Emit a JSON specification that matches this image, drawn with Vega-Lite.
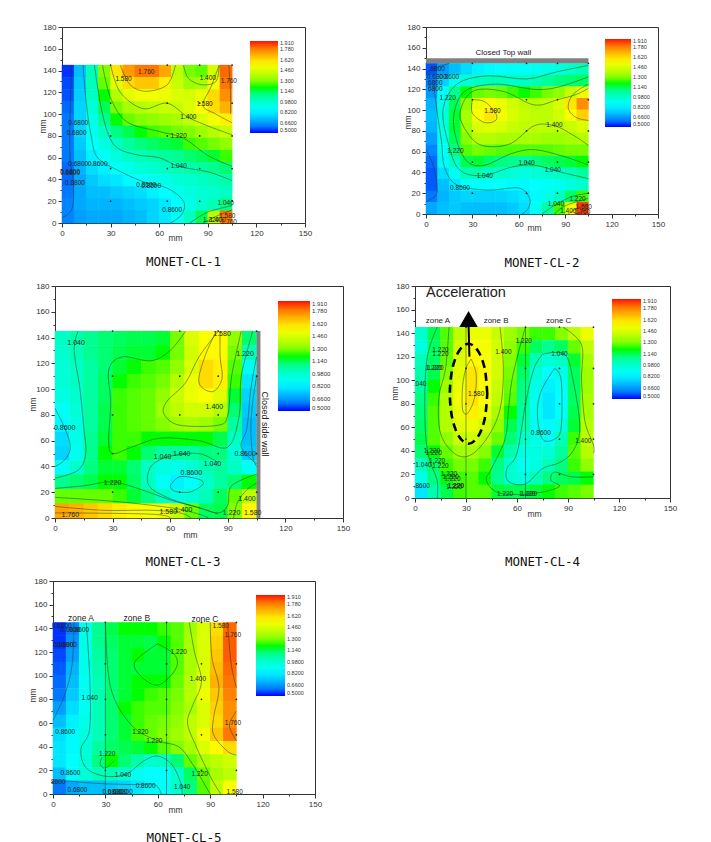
{"$schema":"https://vega.github.io/schema/vega-lite/v6.json","padding":{"left":20,"top":22,"right":0,"bottom":0},"background":"white","config":{"view":{"stroke":"#333"},"axis":{"grid":false,"domainColor":"#333","tickColor":"#333","labelColor":"#333","titleColor":"#333","labelFont":"Liberation Sans","titleFont":"Liberation Sans","labelFontSize":8,"titleFontSize":8.5,"titleFontWeight":"normal","labelOverlap":false,"labelFlush":false,"labelPadding":2,"titleBaseline":"middle"},"legend":{"labelFont":"Liberation Sans","labelColor":"#333"},"title":{"font":"DejaVu Sans Mono","fontSize":12.5,"fontWeight":"normal","color":"#111","anchor":"middle","baseline":"top"}},
"resolve":{"scale":{"color":"independent"},"legend":{"color":"independent"}},"spacing":7,
"datasets":{
"pts":[{"x":30,"y":145},{"x":65,"y":145},{"x":85,"y":145},{"x":105,"y":145},{"x":30,"y":110},{"x":65,"y":110},{"x":85,"y":110},{"x":105,"y":110},{"x":30,"y":80},{"x":65,"y":80},{"x":85,"y":80},{"x":105,"y":80},{"x":30,"y":50},{"x":65,"y":50},{"x":85,"y":50},{"x":105,"y":50},{"x":30,"y":20},{"x":65,"y":20},{"x":85,"y":20},{"x":105,"y":20}],
"g1":[{"x":3.75,"y":139.4,"v":0.52},{"x":11.25,"y":139.4,"v":0.72},{"x":18.75,"y":139.4,"v":1.02},{"x":26.25,"y":139.4,"v":1.3},{"x":33.75,"y":139.4,"v":1.6},{"x":41.25,"y":139.4,"v":1.74},{"x":48.75,"y":139.4,"v":1.8},{"x":56.25,"y":139.4,"v":1.8},{"x":63.75,"y":139.4,"v":1.72},{"x":71.25,"y":139.4,"v":1.4},{"x":78.75,"y":139.4,"v":1.28},{"x":86.25,"y":139.4,"v":1.25},{"x":93.75,"y":139.4,"v":1.45},{"x":101.25,"y":139.4,"v":1.82},
{"x":3.75,"y":128.2,"v":0.54},{"x":11.25,"y":128.2,"v":0.74},{"x":18.75,"y":128.2,"v":1.02},{"x":26.25,"y":128.2,"v":1.26},{"x":33.75,"y":128.2,"v":1.48},{"x":41.25,"y":128.2,"v":1.62},{"x":48.75,"y":128.2,"v":1.66},{"x":56.25,"y":128.2,"v":1.66},{"x":63.75,"y":128.2,"v":1.58},{"x":71.25,"y":128.2,"v":1.42},{"x":78.75,"y":128.2,"v":1.34},{"x":86.25,"y":128.2,"v":1.36},{"x":93.75,"y":128.2,"v":1.52},{"x":101.25,"y":128.2,"v":1.8},
{"x":3.75,"y":117,"v":0.55},{"x":11.25,"y":117,"v":0.75},{"x":18.75,"y":117,"v":1},{"x":26.25,"y":117,"v":1.2},{"x":33.75,"y":117,"v":1.38},{"x":41.25,"y":117,"v":1.48},{"x":48.75,"y":117,"v":1.52},{"x":56.25,"y":117,"v":1.52},{"x":63.75,"y":117,"v":1.5},{"x":71.25,"y":117,"v":1.46},{"x":78.75,"y":117,"v":1.45},{"x":86.25,"y":117,"v":1.5},{"x":93.75,"y":117,"v":1.62},{"x":101.25,"y":117,"v":1.76},
{"x":3.75,"y":105.9,"v":0.58},{"x":11.25,"y":105.9,"v":0.76},{"x":18.75,"y":105.9,"v":0.96},{"x":26.25,"y":105.9,"v":1.15},{"x":33.75,"y":105.9,"v":1.28},{"x":41.25,"y":105.9,"v":1.36},{"x":48.75,"y":105.9,"v":1.38},{"x":56.25,"y":105.9,"v":1.4},{"x":63.75,"y":105.9,"v":1.42},{"x":71.25,"y":105.9,"v":1.42},{"x":78.75,"y":105.9,"v":1.46},{"x":86.25,"y":105.9,"v":1.54},{"x":93.75,"y":105.9,"v":1.62},{"x":101.25,"y":105.9,"v":1.7},
{"x":3.75,"y":94.8,"v":0.6},{"x":11.25,"y":94.8,"v":0.76},{"x":18.75,"y":94.8,"v":0.93},{"x":26.25,"y":94.8,"v":1.08},{"x":33.75,"y":94.8,"v":1.2},{"x":41.25,"y":94.8,"v":1.26},{"x":48.75,"y":94.8,"v":1.3},{"x":56.25,"y":94.8,"v":1.32},{"x":63.75,"y":94.8,"v":1.34},{"x":71.25,"y":94.8,"v":1.36},{"x":78.75,"y":94.8,"v":1.4},{"x":86.25,"y":94.8,"v":1.46},{"x":93.75,"y":94.8,"v":1.52},{"x":101.25,"y":94.8,"v":1.58},
{"x":3.75,"y":83.6,"v":0.6},{"x":11.25,"y":83.6,"v":0.76},{"x":18.75,"y":83.6,"v":0.9},{"x":26.25,"y":83.6,"v":1},{"x":33.75,"y":83.6,"v":1.1},{"x":41.25,"y":83.6,"v":1.16},{"x":48.75,"y":83.6,"v":1.2},{"x":56.25,"y":83.6,"v":1.22},{"x":63.75,"y":83.6,"v":1.24},{"x":71.25,"y":83.6,"v":1.28},{"x":78.75,"y":83.6,"v":1.3},{"x":86.25,"y":83.6,"v":1.34},{"x":93.75,"y":83.6,"v":1.38},{"x":101.25,"y":83.6,"v":1.42},
{"x":3.75,"y":72.5,"v":0.6},{"x":11.25,"y":72.5,"v":0.74},{"x":18.75,"y":72.5,"v":0.86},{"x":26.25,"y":72.5,"v":0.94},{"x":33.75,"y":72.5,"v":1},{"x":41.25,"y":72.5,"v":1.06},{"x":48.75,"y":72.5,"v":1.1},{"x":56.25,"y":72.5,"v":1.14},{"x":63.75,"y":72.5,"v":1.16},{"x":71.25,"y":72.5,"v":1.18},{"x":78.75,"y":72.5,"v":1.22},{"x":86.25,"y":72.5,"v":1.24},{"x":93.75,"y":72.5,"v":1.28},{"x":101.25,"y":72.5,"v":1.32},
{"x":3.75,"y":61.3,"v":0.6},{"x":11.25,"y":61.3,"v":0.72},{"x":18.75,"y":61.3,"v":0.82},{"x":26.25,"y":61.3,"v":0.88},{"x":33.75,"y":61.3,"v":0.94},{"x":41.25,"y":61.3,"v":1},{"x":48.75,"y":61.3,"v":1.02},{"x":56.25,"y":61.3,"v":1.04},{"x":63.75,"y":61.3,"v":1.06},{"x":71.25,"y":61.3,"v":1.08},{"x":78.75,"y":61.3,"v":1.12},{"x":86.25,"y":61.3,"v":1.15},{"x":93.75,"y":61.3,"v":1.18},{"x":101.25,"y":61.3,"v":1.22},
{"x":3.75,"y":50.2,"v":0.58},{"x":11.25,"y":50.2,"v":0.7},{"x":18.75,"y":50.2,"v":0.78},{"x":26.25,"y":50.2,"v":0.82},{"x":33.75,"y":50.2,"v":0.88},{"x":41.25,"y":50.2,"v":0.92},{"x":48.75,"y":50.2,"v":0.96},{"x":56.25,"y":50.2,"v":0.98},{"x":63.75,"y":50.2,"v":1},{"x":71.25,"y":50.2,"v":1.02},{"x":78.75,"y":50.2,"v":1.04},{"x":86.25,"y":50.2,"v":1.06},{"x":93.75,"y":50.2,"v":1.08},{"x":101.25,"y":50.2,"v":1.12},
{"x":3.75,"y":39,"v":0.58},{"x":11.25,"y":39,"v":0.68},{"x":18.75,"y":39,"v":0.74},{"x":26.25,"y":39,"v":0.78},{"x":33.75,"y":39,"v":0.8},{"x":41.25,"y":39,"v":0.84},{"x":48.75,"y":39,"v":0.86},{"x":56.25,"y":39,"v":0.9},{"x":63.75,"y":39,"v":0.92},{"x":71.25,"y":39,"v":0.96},{"x":78.75,"y":39,"v":0.98},{"x":86.25,"y":39,"v":1},{"x":93.75,"y":39,"v":1.02},{"x":101.25,"y":39,"v":1.04},
{"x":3.75,"y":27.9,"v":0.6},{"x":11.25,"y":27.9,"v":0.68},{"x":18.75,"y":27.9,"v":0.72},{"x":26.25,"y":27.9,"v":0.72},{"x":33.75,"y":27.9,"v":0.74},{"x":41.25,"y":27.9,"v":0.76},{"x":48.75,"y":27.9,"v":0.78},{"x":56.25,"y":27.9,"v":0.82},{"x":63.75,"y":27.9,"v":0.85},{"x":71.25,"y":27.9,"v":0.9},{"x":78.75,"y":27.9,"v":0.94},{"x":86.25,"y":27.9,"v":0.97},{"x":93.75,"y":27.9,"v":0.98},{"x":101.25,"y":27.9,"v":1},
{"x":3.75,"y":16.7,"v":0.62},{"x":11.25,"y":16.7,"v":0.68},{"x":18.75,"y":16.7,"v":0.7},{"x":26.25,"y":16.7,"v":0.7},{"x":33.75,"y":16.7,"v":0.7},{"x":41.25,"y":16.7,"v":0.72},{"x":48.75,"y":16.7,"v":0.74},{"x":56.25,"y":16.7,"v":0.76},{"x":63.75,"y":16.7,"v":0.8},{"x":71.25,"y":16.7,"v":0.86},{"x":78.75,"y":16.7,"v":0.92},{"x":86.25,"y":16.7,"v":0.98},{"x":93.75,"y":16.7,"v":1.02},{"x":101.25,"y":16.7,"v":1.1},
{"x":3.75,"y":5.6,"v":0.62},{"x":11.25,"y":5.6,"v":0.66},{"x":18.75,"y":5.6,"v":0.68},{"x":26.25,"y":5.6,"v":0.68},{"x":33.75,"y":5.6,"v":0.68},{"x":41.25,"y":5.6,"v":0.7},{"x":48.75,"y":5.6,"v":0.72},{"x":56.25,"y":5.6,"v":0.76},{"x":63.75,"y":5.6,"v":0.8},{"x":71.25,"y":5.6,"v":0.88},{"x":78.75,"y":5.6,"v":1},{"x":86.25,"y":5.6,"v":1.15},{"x":93.75,"y":5.6,"v":1.4},{"x":101.25,"y":5.6,"v":1.8}],
"g2":[{"x":3.75,"y":139.4,"v":0.55},{"x":11.25,"y":139.4,"v":0.66},{"x":18.75,"y":139.4,"v":0.72},{"x":26.25,"y":139.4,"v":0.78},{"x":33.75,"y":139.4,"v":0.82},{"x":41.25,"y":139.4,"v":0.84},{"x":48.75,"y":139.4,"v":0.86},{"x":56.25,"y":139.4,"v":0.88},{"x":63.75,"y":139.4,"v":0.88},{"x":71.25,"y":139.4,"v":0.9},{"x":78.75,"y":139.4,"v":0.92},{"x":86.25,"y":139.4,"v":0.95},{"x":93.75,"y":139.4,"v":0.98},{"x":101.25,"y":139.4,"v":1.02},
{"x":3.75,"y":128.2,"v":0.6},{"x":11.25,"y":128.2,"v":0.76},{"x":18.75,"y":128.2,"v":0.9},{"x":26.25,"y":128.2,"v":0.96},{"x":33.75,"y":128.2,"v":1},{"x":41.25,"y":128.2,"v":1.02},{"x":48.75,"y":128.2,"v":1.02},{"x":56.25,"y":128.2,"v":1},{"x":63.75,"y":128.2,"v":1},{"x":71.25,"y":128.2,"v":1.02},{"x":78.75,"y":128.2,"v":1.06},{"x":86.25,"y":128.2,"v":1.1},{"x":93.75,"y":128.2,"v":1.12},{"x":101.25,"y":128.2,"v":1.14},
{"x":3.75,"y":117,"v":0.65},{"x":11.25,"y":117,"v":0.88},{"x":18.75,"y":117,"v":1.08},{"x":26.25,"y":117,"v":1.2},{"x":33.75,"y":117,"v":1.26},{"x":41.25,"y":117,"v":1.28},{"x":48.75,"y":117,"v":1.26},{"x":56.25,"y":117,"v":1.22},{"x":63.75,"y":117,"v":1.2},{"x":71.25,"y":117,"v":1.22},{"x":78.75,"y":117,"v":1.28},{"x":86.25,"y":117,"v":1.32},{"x":93.75,"y":117,"v":1.42},{"x":101.25,"y":117,"v":1.5},
{"x":3.75,"y":105.9,"v":0.7},{"x":11.25,"y":105.9,"v":0.92},{"x":18.75,"y":105.9,"v":1.15},{"x":26.25,"y":105.9,"v":1.32},{"x":33.75,"y":105.9,"v":1.5},{"x":41.25,"y":105.9,"v":1.56},{"x":48.75,"y":105.9,"v":1.5},{"x":56.25,"y":105.9,"v":1.44},{"x":63.75,"y":105.9,"v":1.4},{"x":71.25,"y":105.9,"v":1.38},{"x":78.75,"y":105.9,"v":1.4},{"x":86.25,"y":105.9,"v":1.46},{"x":93.75,"y":105.9,"v":1.6},{"x":101.25,"y":105.9,"v":1.76},
{"x":3.75,"y":94.8,"v":0.72},{"x":11.25,"y":94.8,"v":0.94},{"x":18.75,"y":94.8,"v":1.18},{"x":26.25,"y":94.8,"v":1.36},{"x":33.75,"y":94.8,"v":1.54},{"x":41.25,"y":94.8,"v":1.6},{"x":48.75,"y":94.8,"v":1.52},{"x":56.25,"y":94.8,"v":1.46},{"x":63.75,"y":94.8,"v":1.42},{"x":71.25,"y":94.8,"v":1.4},{"x":78.75,"y":94.8,"v":1.4},{"x":86.25,"y":94.8,"v":1.44},{"x":93.75,"y":94.8,"v":1.54},{"x":101.25,"y":94.8,"v":1.64},
{"x":3.75,"y":83.6,"v":0.7},{"x":11.25,"y":83.6,"v":0.94},{"x":18.75,"y":83.6,"v":1.18},{"x":26.25,"y":83.6,"v":1.34},{"x":33.75,"y":83.6,"v":1.46},{"x":41.25,"y":83.6,"v":1.48},{"x":48.75,"y":83.6,"v":1.46},{"x":56.25,"y":83.6,"v":1.42},{"x":63.75,"y":83.6,"v":1.4},{"x":71.25,"y":83.6,"v":1.4},{"x":78.75,"y":83.6,"v":1.4},{"x":86.25,"y":83.6,"v":1.4},{"x":93.75,"y":83.6,"v":1.42},{"x":101.25,"y":83.6,"v":1.46},
{"x":3.75,"y":72.5,"v":0.66},{"x":11.25,"y":72.5,"v":0.92},{"x":18.75,"y":72.5,"v":1.15},{"x":26.25,"y":72.5,"v":1.3},{"x":33.75,"y":72.5,"v":1.38},{"x":41.25,"y":72.5,"v":1.38},{"x":48.75,"y":72.5,"v":1.36},{"x":56.25,"y":72.5,"v":1.36},{"x":63.75,"y":72.5,"v":1.36},{"x":71.25,"y":72.5,"v":1.36},{"x":78.75,"y":72.5,"v":1.34},{"x":86.25,"y":72.5,"v":1.34},{"x":93.75,"y":72.5,"v":1.36},{"x":101.25,"y":72.5,"v":1.38},
{"x":3.75,"y":61.3,"v":0.62},{"x":11.25,"y":61.3,"v":0.88},{"x":18.75,"y":61.3,"v":1.1},{"x":26.25,"y":61.3,"v":1.24},{"x":33.75,"y":61.3,"v":1.28},{"x":41.25,"y":61.3,"v":1.26},{"x":48.75,"y":61.3,"v":1.24},{"x":56.25,"y":61.3,"v":1.24},{"x":63.75,"y":61.3,"v":1.24},{"x":71.25,"y":61.3,"v":1.24},{"x":78.75,"y":61.3,"v":1.24},{"x":86.25,"y":61.3,"v":1.26},{"x":93.75,"y":61.3,"v":1.28},{"x":101.25,"y":61.3,"v":1.28},
{"x":3.75,"y":50.2,"v":0.58},{"x":11.25,"y":50.2,"v":0.84},{"x":18.75,"y":50.2,"v":1},{"x":26.25,"y":50.2,"v":1.16},{"x":33.75,"y":50.2,"v":1.18},{"x":41.25,"y":50.2,"v":1.14},{"x":48.75,"y":50.2,"v":1.1},{"x":56.25,"y":50.2,"v":1.08},{"x":63.75,"y":50.2,"v":1.06},{"x":71.25,"y":50.2,"v":1.1},{"x":78.75,"y":50.2,"v":1.14},{"x":86.25,"y":50.2,"v":1.16},{"x":93.75,"y":50.2,"v":1.18},{"x":101.25,"y":50.2,"v":1.2},
{"x":3.75,"y":39,"v":0.56},{"x":11.25,"y":39,"v":0.78},{"x":18.75,"y":39,"v":0.9},{"x":26.25,"y":39,"v":1.02},{"x":33.75,"y":39,"v":1.03},{"x":41.25,"y":39,"v":1},{"x":48.75,"y":39,"v":0.98},{"x":56.25,"y":39,"v":0.96},{"x":63.75,"y":39,"v":0.94},{"x":71.25,"y":39,"v":0.96},{"x":78.75,"y":39,"v":0.98},{"x":86.25,"y":39,"v":1},{"x":93.75,"y":39,"v":1.02},{"x":101.25,"y":39,"v":1.06},
{"x":3.75,"y":27.9,"v":0.56},{"x":11.25,"y":27.9,"v":0.72},{"x":18.75,"y":27.9,"v":0.8},{"x":26.25,"y":27.9,"v":0.86},{"x":33.75,"y":27.9,"v":0.86},{"x":41.25,"y":27.9,"v":0.86},{"x":48.75,"y":27.9,"v":0.86},{"x":56.25,"y":27.9,"v":0.84},{"x":63.75,"y":27.9,"v":0.84},{"x":71.25,"y":27.9,"v":0.86},{"x":78.75,"y":27.9,"v":0.88},{"x":86.25,"y":27.9,"v":0.9},{"x":93.75,"y":27.9,"v":0.94},{"x":101.25,"y":27.9,"v":0.98},
{"x":3.75,"y":16.7,"v":0.6},{"x":11.25,"y":16.7,"v":0.7},{"x":18.75,"y":16.7,"v":0.74},{"x":26.25,"y":16.7,"v":0.76},{"x":33.75,"y":16.7,"v":0.76},{"x":41.25,"y":16.7,"v":0.76},{"x":48.75,"y":16.7,"v":0.76},{"x":56.25,"y":16.7,"v":0.78},{"x":63.75,"y":16.7,"v":0.8},{"x":71.25,"y":16.7,"v":0.84},{"x":78.75,"y":16.7,"v":0.92},{"x":86.25,"y":16.7,"v":1},{"x":93.75,"y":16.7,"v":1.14},{"x":101.25,"y":16.7,"v":1.22},
{"x":3.75,"y":5.6,"v":0.68},{"x":11.25,"y":5.6,"v":0.72},{"x":18.75,"y":5.6,"v":0.74},{"x":26.25,"y":5.6,"v":0.72},{"x":33.75,"y":5.6,"v":0.72},{"x":41.25,"y":5.6,"v":0.72},{"x":48.75,"y":5.6,"v":0.72},{"x":56.25,"y":5.6,"v":0.74},{"x":63.75,"y":5.6,"v":0.78},{"x":71.25,"y":5.6,"v":0.88},{"x":78.75,"y":5.6,"v":1.04},{"x":86.25,"y":5.6,"v":1.22},{"x":93.75,"y":5.6,"v":1.5},{"x":101.25,"y":5.6,"v":1.88}],
"g3":[{"x":3.75,"y":139.4,"v":1},{"x":11.25,"y":139.4,"v":1.04},{"x":18.75,"y":139.4,"v":1.08},{"x":26.25,"y":139.4,"v":1.12},{"x":33.75,"y":139.4,"v":1.14},{"x":41.25,"y":139.4,"v":1.16},{"x":48.75,"y":139.4,"v":1.16},{"x":56.25,"y":139.4,"v":1.18},{"x":63.75,"y":139.4,"v":1.28},{"x":71.25,"y":139.4,"v":1.46},{"x":78.75,"y":139.4,"v":1.54},{"x":86.25,"y":139.4,"v":1.56},{"x":93.75,"y":139.4,"v":1.32},{"x":101.25,"y":139.4,"v":1.12},
{"x":3.75,"y":128.2,"v":0.98},{"x":11.25,"y":128.2,"v":1.02},{"x":18.75,"y":128.2,"v":1.08},{"x":26.25,"y":128.2,"v":1.12},{"x":33.75,"y":128.2,"v":1.16},{"x":41.25,"y":128.2,"v":1.18},{"x":48.75,"y":128.2,"v":1.18},{"x":56.25,"y":128.2,"v":1.2},{"x":63.75,"y":128.2,"v":1.28},{"x":71.25,"y":128.2,"v":1.44},{"x":78.75,"y":128.2,"v":1.56},{"x":86.25,"y":128.2,"v":1.56},{"x":93.75,"y":128.2,"v":1.28},{"x":101.25,"y":128.2,"v":1.02},
{"x":3.75,"y":117,"v":0.96},{"x":11.25,"y":117,"v":1},{"x":18.75,"y":117,"v":1.06},{"x":26.25,"y":117,"v":1.12},{"x":33.75,"y":117,"v":1.18},{"x":41.25,"y":117,"v":1.2},{"x":48.75,"y":117,"v":1.22},{"x":56.25,"y":117,"v":1.24},{"x":63.75,"y":117,"v":1.32},{"x":71.25,"y":117,"v":1.46},{"x":78.75,"y":117,"v":1.62},{"x":86.25,"y":117,"v":1.58},{"x":93.75,"y":117,"v":1.24},{"x":101.25,"y":117,"v":0.9},
{"x":3.75,"y":105.9,"v":0.96},{"x":11.25,"y":105.9,"v":1},{"x":18.75,"y":105.9,"v":1.06},{"x":26.25,"y":105.9,"v":1.14},{"x":33.75,"y":105.9,"v":1.2},{"x":41.25,"y":105.9,"v":1.22},{"x":48.75,"y":105.9,"v":1.24},{"x":56.25,"y":105.9,"v":1.28},{"x":63.75,"y":105.9,"v":1.38},{"x":71.25,"y":105.9,"v":1.5},{"x":78.75,"y":105.9,"v":1.62},{"x":86.25,"y":105.9,"v":1.58},{"x":93.75,"y":105.9,"v":1.22},{"x":101.25,"y":105.9,"v":0.8},
{"x":3.75,"y":94.8,"v":0.94},{"x":11.25,"y":94.8,"v":0.98},{"x":18.75,"y":94.8,"v":1.06},{"x":26.25,"y":94.8,"v":1.14},{"x":33.75,"y":94.8,"v":1.22},{"x":41.25,"y":94.8,"v":1.24},{"x":48.75,"y":94.8,"v":1.26},{"x":56.25,"y":94.8,"v":1.32},{"x":63.75,"y":94.8,"v":1.42},{"x":71.25,"y":94.8,"v":1.5},{"x":78.75,"y":94.8,"v":1.54},{"x":86.25,"y":94.8,"v":1.48},{"x":93.75,"y":94.8,"v":1.18},{"x":101.25,"y":94.8,"v":0.76},
{"x":3.75,"y":83.6,"v":0.88},{"x":11.25,"y":83.6,"v":0.96},{"x":18.75,"y":83.6,"v":1.06},{"x":26.25,"y":83.6,"v":1.16},{"x":33.75,"y":83.6,"v":1.22},{"x":41.25,"y":83.6,"v":1.24},{"x":48.75,"y":83.6,"v":1.26},{"x":56.25,"y":83.6,"v":1.34},{"x":63.75,"y":83.6,"v":1.4},{"x":71.25,"y":83.6,"v":1.44},{"x":78.75,"y":83.6,"v":1.44},{"x":86.25,"y":83.6,"v":1.38},{"x":93.75,"y":83.6,"v":1.12},{"x":101.25,"y":83.6,"v":0.74},
{"x":3.75,"y":72.5,"v":0.84},{"x":11.25,"y":72.5,"v":0.94},{"x":18.75,"y":72.5,"v":1.06},{"x":26.25,"y":72.5,"v":1.16},{"x":33.75,"y":72.5,"v":1.22},{"x":41.25,"y":72.5,"v":1.24},{"x":48.75,"y":72.5,"v":1.26},{"x":56.25,"y":72.5,"v":1.3},{"x":63.75,"y":72.5,"v":1.34},{"x":71.25,"y":72.5,"v":1.36},{"x":78.75,"y":72.5,"v":1.34},{"x":86.25,"y":72.5,"v":1.28},{"x":93.75,"y":72.5,"v":1.06},{"x":101.25,"y":72.5,"v":0.72},
{"x":3.75,"y":61.3,"v":0.78},{"x":11.25,"y":61.3,"v":0.92},{"x":18.75,"y":61.3,"v":1.08},{"x":26.25,"y":61.3,"v":1.18},{"x":33.75,"y":61.3,"v":1.22},{"x":41.25,"y":61.3,"v":1.22},{"x":48.75,"y":61.3,"v":1.2},{"x":56.25,"y":61.3,"v":1.2},{"x":63.75,"y":61.3,"v":1.2},{"x":71.25,"y":61.3,"v":1.2},{"x":78.75,"y":61.3,"v":1.2},{"x":86.25,"y":61.3,"v":1.16},{"x":93.75,"y":61.3,"v":1},{"x":101.25,"y":61.3,"v":0.72},
{"x":3.75,"y":50.2,"v":0.76},{"x":11.25,"y":50.2,"v":0.9},{"x":18.75,"y":50.2,"v":1.08},{"x":26.25,"y":50.2,"v":1.2},{"x":33.75,"y":50.2,"v":1.22},{"x":41.25,"y":50.2,"v":1.2},{"x":48.75,"y":50.2,"v":1.12},{"x":56.25,"y":50.2,"v":1.06},{"x":63.75,"y":50.2,"v":1.06},{"x":71.25,"y":50.2,"v":1.06},{"x":78.75,"y":50.2,"v":1.1},{"x":86.25,"y":50.2,"v":1.1},{"x":93.75,"y":50.2,"v":0.96},{"x":101.25,"y":50.2,"v":0.74},
{"x":3.75,"y":39,"v":0.88},{"x":11.25,"y":39,"v":0.98},{"x":18.75,"y":39,"v":1.1},{"x":26.25,"y":39,"v":1.18},{"x":33.75,"y":39,"v":1.18},{"x":41.25,"y":39,"v":1.12},{"x":48.75,"y":39,"v":1},{"x":56.25,"y":39,"v":0.94},{"x":63.75,"y":39,"v":0.92},{"x":71.25,"y":39,"v":0.96},{"x":78.75,"y":39,"v":1.02},{"x":86.25,"y":39,"v":1.06},{"x":93.75,"y":39,"v":1},{"x":101.25,"y":39,"v":0.88},
{"x":3.75,"y":27.9,"v":1.08},{"x":11.25,"y":27.9,"v":1.12},{"x":18.75,"y":27.9,"v":1.16},{"x":26.25,"y":27.9,"v":1.2},{"x":33.75,"y":27.9,"v":1.2},{"x":41.25,"y":27.9,"v":1.14},{"x":48.75,"y":27.9,"v":1},{"x":56.25,"y":27.9,"v":0.88},{"x":63.75,"y":27.9,"v":0.82},{"x":71.25,"y":27.9,"v":0.86},{"x":78.75,"y":27.9,"v":0.98},{"x":86.25,"y":27.9,"v":1.06},{"x":93.75,"y":27.9,"v":1.12},{"x":101.25,"y":27.9,"v":1.2},
{"x":3.75,"y":16.7,"v":1.26},{"x":11.25,"y":16.7,"v":1.26},{"x":18.75,"y":16.7,"v":1.26},{"x":26.25,"y":16.7,"v":1.26},{"x":33.75,"y":16.7,"v":1.22},{"x":41.25,"y":16.7,"v":1.18},{"x":48.75,"y":16.7,"v":1.1},{"x":56.25,"y":16.7,"v":1},{"x":63.75,"y":16.7,"v":0.94},{"x":71.25,"y":16.7,"v":0.96},{"x":78.75,"y":16.7,"v":1.02},{"x":86.25,"y":16.7,"v":1.14},{"x":93.75,"y":16.7,"v":1.26},{"x":101.25,"y":16.7,"v":1.4},
{"x":3.75,"y":5.6,"v":1.72},{"x":11.25,"y":5.6,"v":1.7},{"x":18.75,"y":5.6,"v":1.66},{"x":26.25,"y":5.6,"v":1.62},{"x":33.75,"y":5.6,"v":1.58},{"x":41.25,"y":5.6,"v":1.56},{"x":48.75,"y":5.6,"v":1.54},{"x":56.25,"y":5.6,"v":1.52},{"x":63.75,"y":5.6,"v":1.42},{"x":71.25,"y":5.6,"v":1.26},{"x":78.75,"y":5.6,"v":1.14},{"x":86.25,"y":5.6,"v":1.16},{"x":93.75,"y":5.6,"v":1.3},{"x":101.25,"y":5.6,"v":1.56}],
"g4":[{"x":3.75,"y":139.4,"v":0.98},{"x":11.25,"y":139.4,"v":1.16},{"x":18.75,"y":139.4,"v":1.24},{"x":26.25,"y":139.4,"v":1.4},{"x":33.75,"y":139.4,"v":1.5},{"x":41.25,"y":139.4,"v":1.5},{"x":48.75,"y":139.4,"v":1.42},{"x":56.25,"y":139.4,"v":1.34},{"x":63.75,"y":139.4,"v":1.28},{"x":71.25,"y":139.4,"v":1.22},{"x":78.75,"y":139.4,"v":1.22},{"x":86.25,"y":139.4,"v":1.3},{"x":93.75,"y":139.4,"v":1.4},{"x":101.25,"y":139.4,"v":1.5},
{"x":3.75,"y":128.2,"v":0.94},{"x":11.25,"y":128.2,"v":1.14},{"x":18.75,"y":128.2,"v":1.24},{"x":26.25,"y":128.2,"v":1.44},{"x":33.75,"y":128.2,"v":1.54},{"x":41.25,"y":128.2,"v":1.52},{"x":48.75,"y":128.2,"v":1.44},{"x":56.25,"y":128.2,"v":1.32},{"x":63.75,"y":128.2,"v":1.22},{"x":71.25,"y":128.2,"v":1.14},{"x":78.75,"y":128.2,"v":1.08},{"x":86.25,"y":128.2,"v":1.14},{"x":93.75,"y":128.2,"v":1.26},{"x":101.25,"y":128.2,"v":1.4},
{"x":3.75,"y":117,"v":1.02},{"x":11.25,"y":117,"v":1.14},{"x":18.75,"y":117,"v":1.26},{"x":26.25,"y":117,"v":1.46},{"x":33.75,"y":117,"v":1.56},{"x":41.25,"y":117,"v":1.54},{"x":48.75,"y":117,"v":1.44},{"x":56.25,"y":117,"v":1.3},{"x":63.75,"y":117,"v":1.18},{"x":71.25,"y":117,"v":1.02},{"x":78.75,"y":117,"v":0.96},{"x":86.25,"y":117,"v":1},{"x":93.75,"y":117,"v":1.18},{"x":101.25,"y":117,"v":1.36},
{"x":3.75,"y":105.9,"v":1.04},{"x":11.25,"y":105.9,"v":1.16},{"x":18.75,"y":105.9,"v":1.3},{"x":26.25,"y":105.9,"v":1.48},{"x":33.75,"y":105.9,"v":1.6},{"x":41.25,"y":105.9,"v":1.56},{"x":48.75,"y":105.9,"v":1.44},{"x":56.25,"y":105.9,"v":1.28},{"x":63.75,"y":105.9,"v":1.14},{"x":71.25,"y":105.9,"v":0.96},{"x":78.75,"y":105.9,"v":0.86},{"x":86.25,"y":105.9,"v":0.92},{"x":93.75,"y":105.9,"v":1.14},{"x":101.25,"y":105.9,"v":1.34},
{"x":3.75,"y":94.8,"v":1.06},{"x":11.25,"y":94.8,"v":1.2},{"x":18.75,"y":94.8,"v":1.34},{"x":26.25,"y":94.8,"v":1.5},{"x":33.75,"y":94.8,"v":1.6},{"x":41.25,"y":94.8,"v":1.54},{"x":48.75,"y":94.8,"v":1.42},{"x":56.25,"y":94.8,"v":1.26},{"x":63.75,"y":94.8,"v":1.1},{"x":71.25,"y":94.8,"v":0.92},{"x":78.75,"y":94.8,"v":0.82},{"x":86.25,"y":94.8,"v":0.88},{"x":93.75,"y":94.8,"v":1.14},{"x":101.25,"y":94.8,"v":1.34},
{"x":3.75,"y":83.6,"v":1.1},{"x":11.25,"y":83.6,"v":1.22},{"x":18.75,"y":83.6,"v":1.38},{"x":26.25,"y":83.6,"v":1.52},{"x":33.75,"y":83.6,"v":1.6},{"x":41.25,"y":83.6,"v":1.54},{"x":48.75,"y":83.6,"v":1.4},{"x":56.25,"y":83.6,"v":1.24},{"x":63.75,"y":83.6,"v":1.08},{"x":71.25,"y":83.6,"v":0.9},{"x":78.75,"y":83.6,"v":0.8},{"x":86.25,"y":83.6,"v":0.86},{"x":93.75,"y":83.6,"v":1.14},{"x":101.25,"y":83.6,"v":1.36},
{"x":3.75,"y":72.5,"v":1.12},{"x":11.25,"y":72.5,"v":1.24},{"x":18.75,"y":72.5,"v":1.38},{"x":26.25,"y":72.5,"v":1.5},{"x":33.75,"y":72.5,"v":1.58},{"x":41.25,"y":72.5,"v":1.5},{"x":48.75,"y":72.5,"v":1.36},{"x":56.25,"y":72.5,"v":1.2},{"x":63.75,"y":72.5,"v":1.06},{"x":71.25,"y":72.5,"v":0.9},{"x":78.75,"y":72.5,"v":0.8},{"x":86.25,"y":72.5,"v":0.88},{"x":93.75,"y":72.5,"v":1.16},{"x":101.25,"y":72.5,"v":1.36},
{"x":3.75,"y":61.3,"v":1.14},{"x":11.25,"y":61.3,"v":1.24},{"x":18.75,"y":61.3,"v":1.38},{"x":26.25,"y":61.3,"v":1.48},{"x":33.75,"y":61.3,"v":1.5},{"x":41.25,"y":61.3,"v":1.44},{"x":48.75,"y":61.3,"v":1.32},{"x":56.25,"y":61.3,"v":1.16},{"x":63.75,"y":61.3,"v":1.04},{"x":71.25,"y":61.3,"v":0.9},{"x":78.75,"y":61.3,"v":0.84},{"x":86.25,"y":61.3,"v":0.94},{"x":93.75,"y":61.3,"v":1.18},{"x":101.25,"y":61.3,"v":1.38},
{"x":3.75,"y":50.2,"v":1.16},{"x":11.25,"y":50.2,"v":1.24},{"x":18.75,"y":50.2,"v":1.32},{"x":26.25,"y":50.2,"v":1.42},{"x":33.75,"y":50.2,"v":1.44},{"x":41.25,"y":50.2,"v":1.38},{"x":48.75,"y":50.2,"v":1.26},{"x":56.25,"y":50.2,"v":1.12},{"x":63.75,"y":50.2,"v":1},{"x":71.25,"y":50.2,"v":0.92},{"x":78.75,"y":50.2,"v":0.88},{"x":86.25,"y":50.2,"v":1.02},{"x":93.75,"y":50.2,"v":1.22},{"x":101.25,"y":50.2,"v":1.4},
{"x":3.75,"y":39,"v":1.12},{"x":11.25,"y":39,"v":1.2},{"x":18.75,"y":39,"v":1.26},{"x":26.25,"y":39,"v":1.34},{"x":33.75,"y":39,"v":1.36},{"x":41.25,"y":39,"v":1.3},{"x":48.75,"y":39,"v":1.18},{"x":56.25,"y":39,"v":1.04},{"x":63.75,"y":39,"v":0.94},{"x":71.25,"y":39,"v":0.94},{"x":78.75,"y":39,"v":0.96},{"x":86.25,"y":39,"v":1.06},{"x":93.75,"y":39,"v":1.24},{"x":101.25,"y":39,"v":1.38},
{"x":3.75,"y":27.9,"v":1},{"x":11.25,"y":27.9,"v":1.14},{"x":18.75,"y":27.9,"v":1.22},{"x":26.25,"y":27.9,"v":1.28},{"x":33.75,"y":27.9,"v":1.28},{"x":41.25,"y":27.9,"v":1.22},{"x":48.75,"y":27.9,"v":1.1},{"x":56.25,"y":27.9,"v":0.98},{"x":63.75,"y":27.9,"v":0.9},{"x":71.25,"y":27.9,"v":0.94},{"x":78.75,"y":27.9,"v":1.02},{"x":86.25,"y":27.9,"v":1.1},{"x":93.75,"y":27.9,"v":1.22},{"x":101.25,"y":27.9,"v":1.32},
{"x":3.75,"y":16.7,"v":0.92},{"x":11.25,"y":16.7,"v":1.1},{"x":18.75,"y":16.7,"v":1.2},{"x":26.25,"y":16.7,"v":1.22},{"x":33.75,"y":16.7,"v":1.24},{"x":41.25,"y":16.7,"v":1.2},{"x":48.75,"y":16.7,"v":1.08},{"x":56.25,"y":16.7,"v":0.98},{"x":63.75,"y":16.7,"v":0.94},{"x":71.25,"y":16.7,"v":1.02},{"x":78.75,"y":16.7,"v":1.1},{"x":86.25,"y":16.7,"v":1.14},{"x":93.75,"y":16.7,"v":1.16},{"x":101.25,"y":16.7,"v":1.2},
{"x":3.75,"y":5.6,"v":0.8},{"x":11.25,"y":5.6,"v":1.04},{"x":18.75,"y":5.6,"v":1.16},{"x":26.25,"y":5.6,"v":1.22},{"x":33.75,"y":5.6,"v":1.24},{"x":41.25,"y":5.6,"v":1.24},{"x":48.75,"y":5.6,"v":1.18},{"x":56.25,"y":5.6,"v":1.16},{"x":63.75,"y":5.6,"v":1.16},{"x":71.25,"y":5.6,"v":1.18},{"x":78.75,"y":5.6,"v":1.2},{"x":86.25,"y":5.6,"v":1.22},{"x":93.75,"y":5.6,"v":1.24},{"x":101.25,"y":5.6,"v":1.28}],
"g5":[{"x":3.75,"y":139.4,"v":0.52},{"x":11.25,"y":139.4,"v":0.62},{"x":18.75,"y":139.4,"v":0.92},{"x":26.25,"y":139.4,"v":1.08},{"x":33.75,"y":139.4,"v":1.16},{"x":41.25,"y":139.4,"v":1.2},{"x":48.75,"y":139.4,"v":1.2},{"x":56.25,"y":139.4,"v":1.2},{"x":63.75,"y":139.4,"v":1.22},{"x":71.25,"y":139.4,"v":1.24},{"x":78.75,"y":139.4,"v":1.34},{"x":86.25,"y":139.4,"v":1.46},{"x":93.75,"y":139.4,"v":1.62},{"x":101.25,"y":139.4,"v":1.82},
{"x":3.75,"y":128.2,"v":0.52},{"x":11.25,"y":128.2,"v":0.64},{"x":18.75,"y":128.2,"v":0.92},{"x":26.25,"y":128.2,"v":1.08},{"x":33.75,"y":128.2,"v":1.14},{"x":41.25,"y":128.2,"v":1.18},{"x":48.75,"y":128.2,"v":1.18},{"x":56.25,"y":128.2,"v":1.16},{"x":63.75,"y":128.2,"v":1.2},{"x":71.25,"y":128.2,"v":1.24},{"x":78.75,"y":128.2,"v":1.36},{"x":86.25,"y":128.2,"v":1.46},{"x":93.75,"y":128.2,"v":1.64},{"x":101.25,"y":128.2,"v":1.84},
{"x":3.75,"y":117,"v":0.54},{"x":11.25,"y":117,"v":0.66},{"x":18.75,"y":117,"v":0.92},{"x":26.25,"y":117,"v":1.06},{"x":33.75,"y":117,"v":1.12},{"x":41.25,"y":117,"v":1.18},{"x":48.75,"y":117,"v":1.2},{"x":56.25,"y":117,"v":1.18},{"x":63.75,"y":117,"v":1.18},{"x":71.25,"y":117,"v":1.24},{"x":78.75,"y":117,"v":1.36},{"x":86.25,"y":117,"v":1.46},{"x":93.75,"y":117,"v":1.66},{"x":101.25,"y":117,"v":1.84},
{"x":3.75,"y":105.9,"v":0.56},{"x":11.25,"y":105.9,"v":0.7},{"x":18.75,"y":105.9,"v":0.92},{"x":26.25,"y":105.9,"v":1.04},{"x":33.75,"y":105.9,"v":1.12},{"x":41.25,"y":105.9,"v":1.18},{"x":48.75,"y":105.9,"v":1.18},{"x":56.25,"y":105.9,"v":1.18},{"x":63.75,"y":105.9,"v":1.18},{"x":71.25,"y":105.9,"v":1.24},{"x":78.75,"y":105.9,"v":1.36},{"x":86.25,"y":105.9,"v":1.46},{"x":93.75,"y":105.9,"v":1.68},{"x":101.25,"y":105.9,"v":1.82},
{"x":3.75,"y":94.8,"v":0.58},{"x":11.25,"y":94.8,"v":0.72},{"x":18.75,"y":94.8,"v":0.9},{"x":26.25,"y":94.8,"v":1.02},{"x":33.75,"y":94.8,"v":1.12},{"x":41.25,"y":94.8,"v":1.18},{"x":48.75,"y":94.8,"v":1.2},{"x":56.25,"y":94.8,"v":1.2},{"x":63.75,"y":94.8,"v":1.2},{"x":71.25,"y":94.8,"v":1.26},{"x":78.75,"y":94.8,"v":1.38},{"x":86.25,"y":94.8,"v":1.48},{"x":93.75,"y":94.8,"v":1.7},{"x":101.25,"y":94.8,"v":1.8},
{"x":3.75,"y":83.6,"v":0.6},{"x":11.25,"y":83.6,"v":0.74},{"x":18.75,"y":83.6,"v":0.9},{"x":26.25,"y":83.6,"v":1.02},{"x":33.75,"y":83.6,"v":1.12},{"x":41.25,"y":83.6,"v":1.18},{"x":48.75,"y":83.6,"v":1.2},{"x":56.25,"y":83.6,"v":1.22},{"x":63.75,"y":83.6,"v":1.24},{"x":71.25,"y":83.6,"v":1.28},{"x":78.75,"y":83.6,"v":1.38},{"x":86.25,"y":83.6,"v":1.5},{"x":93.75,"y":83.6,"v":1.66},{"x":101.25,"y":83.6,"v":1.78},
{"x":3.75,"y":72.5,"v":0.66},{"x":11.25,"y":72.5,"v":0.78},{"x":18.75,"y":72.5,"v":0.9},{"x":26.25,"y":72.5,"v":1.02},{"x":33.75,"y":72.5,"v":1.12},{"x":41.25,"y":72.5,"v":1.2},{"x":48.75,"y":72.5,"v":1.22},{"x":56.25,"y":72.5,"v":1.24},{"x":63.75,"y":72.5,"v":1.24},{"x":71.25,"y":72.5,"v":1.3},{"x":78.75,"y":72.5,"v":1.36},{"x":86.25,"y":72.5,"v":1.46},{"x":93.75,"y":72.5,"v":1.64},{"x":101.25,"y":72.5,"v":1.76},
{"x":3.75,"y":61.3,"v":0.72},{"x":11.25,"y":61.3,"v":0.82},{"x":18.75,"y":61.3,"v":0.92},{"x":26.25,"y":61.3,"v":1.02},{"x":33.75,"y":61.3,"v":1.12},{"x":41.25,"y":61.3,"v":1.18},{"x":48.75,"y":61.3,"v":1.22},{"x":56.25,"y":61.3,"v":1.26},{"x":63.75,"y":61.3,"v":1.28},{"x":71.25,"y":61.3,"v":1.32},{"x":78.75,"y":61.3,"v":1.4},{"x":86.25,"y":61.3,"v":1.46},{"x":93.75,"y":61.3,"v":1.62},{"x":101.25,"y":61.3,"v":1.76},
{"x":3.75,"y":50.2,"v":0.78},{"x":11.25,"y":50.2,"v":0.84},{"x":18.75,"y":50.2,"v":0.94},{"x":26.25,"y":50.2,"v":1.02},{"x":33.75,"y":50.2,"v":1.12},{"x":41.25,"y":50.2,"v":1.18},{"x":48.75,"y":50.2,"v":1.22},{"x":56.25,"y":50.2,"v":1.26},{"x":63.75,"y":50.2,"v":1.3},{"x":71.25,"y":50.2,"v":1.34},{"x":78.75,"y":50.2,"v":1.4},{"x":86.25,"y":50.2,"v":1.52},{"x":93.75,"y":50.2,"v":1.66},{"x":101.25,"y":50.2,"v":1.8},
{"x":3.75,"y":39,"v":0.8},{"x":11.25,"y":39,"v":0.84},{"x":18.75,"y":39,"v":0.96},{"x":26.25,"y":39,"v":1.06},{"x":33.75,"y":39,"v":1.14},{"x":41.25,"y":39,"v":1.16},{"x":48.75,"y":39,"v":1.18},{"x":56.25,"y":39,"v":1.2},{"x":63.75,"y":39,"v":1.24},{"x":71.25,"y":39,"v":1.3},{"x":78.75,"y":39,"v":1.36},{"x":86.25,"y":39,"v":1.46},{"x":93.75,"y":39,"v":1.56},{"x":101.25,"y":39,"v":1.62},
{"x":3.75,"y":27.9,"v":0.8},{"x":11.25,"y":27.9,"v":0.86},{"x":18.75,"y":27.9,"v":0.96},{"x":26.25,"y":27.9,"v":1.1},{"x":33.75,"y":27.9,"v":1.2},{"x":41.25,"y":27.9,"v":1.12},{"x":48.75,"y":27.9,"v":1.04},{"x":56.25,"y":27.9,"v":0.98},{"x":63.75,"y":27.9,"v":1},{"x":71.25,"y":27.9,"v":1.12},{"x":78.75,"y":27.9,"v":1.26},{"x":86.25,"y":27.9,"v":1.36},{"x":93.75,"y":27.9,"v":1.4},{"x":101.25,"y":27.9,"v":1.44},
{"x":3.75,"y":16.7,"v":0.72},{"x":11.25,"y":16.7,"v":0.84},{"x":18.75,"y":16.7,"v":0.96},{"x":26.25,"y":16.7,"v":1.02},{"x":33.75,"y":16.7,"v":1.02},{"x":41.25,"y":16.7,"v":0.98},{"x":48.75,"y":16.7,"v":0.9},{"x":56.25,"y":16.7,"v":0.86},{"x":63.75,"y":16.7,"v":0.86},{"x":71.25,"y":16.7,"v":0.98},{"x":78.75,"y":16.7,"v":1.14},{"x":86.25,"y":16.7,"v":1.26},{"x":93.75,"y":16.7,"v":1.36},{"x":101.25,"y":16.7,"v":1.4},
{"x":3.75,"y":5.6,"v":0.6},{"x":11.25,"y":5.6,"v":0.68},{"x":18.75,"y":5.6,"v":0.72},{"x":26.25,"y":5.6,"v":0.72},{"x":33.75,"y":5.6,"v":0.74},{"x":41.25,"y":5.6,"v":0.76},{"x":48.75,"y":5.6,"v":0.8},{"x":56.25,"y":5.6,"v":0.84},{"x":63.75,"y":5.6,"v":0.88},{"x":71.25,"y":5.6,"v":0.98},{"x":78.75,"y":5.6,"v":1.1},{"x":86.25,"y":5.6,"v":1.24},{"x":93.75,"y":5.6,"v":1.4},{"x":101.25,"y":5.6,"v":1.54}],
"l1":[{"k":"a","x":6,"y":145},{"k":"a","x":5,"y":100},{"k":"a","x":5,"y":60},{"k":"a","x":7,"y":40},{"k":"a","x":7,"y":20},{"k":"a","x":5,"y":10},{"k":"a","x":0,"y":5},
{"k":"b","x":13,"y":145},{"k":"b","x":15,"y":110},{"k":"b","x":18,"y":80},{"k":"b","x":22,"y":60},{"k":"b","x":35,"y":48},{"k":"b","x":50,"y":38},{"k":"b","x":65,"y":32},{"k":"b","x":75,"y":20},{"k":"b","x":74,"y":8},{"k":"b","x":67,"y":0},
{"k":"c","x":20,"y":145},{"k":"c","x":25,"y":100},{"k":"c","x":32,"y":72},{"k":"c","x":45,"y":63},{"k":"c","x":60,"y":60},{"k":"c","x":72,"y":52},{"k":"c","x":90,"y":47},{"k":"c","x":105,"y":39},
{"k":"d","x":25,"y":145},{"k":"d","x":30,"y":115},{"k":"d","x":40,"y":93},{"k":"d","x":60,"y":84},{"k":"d","x":75,"y":78},{"k":"d","x":90,"y":62},{"k":"d","x":105,"y":52},
{"k":"e","x":30,"y":145},{"k":"e","x":36,"y":120},{"k":"e","x":50,"y":105},{"k":"e","x":65,"y":110},{"k":"e","x":78,"y":97},{"k":"e","x":92,"y":88},{"k":"e","x":105,"y":81},
{"k":"f","x":36,"y":145},{"k":"f","x":42,"y":127},{"k":"f","x":52,"y":121},{"k":"f","x":65,"y":127},{"k":"f","x":70,"y":145},
{"k":"g","x":75,"y":145},{"k":"g","x":78,"y":133},{"k":"g","x":86,"y":127},{"k":"g","x":95,"y":130},{"k":"g","x":97,"y":145},
{"k":"h","x":97,"y":145},{"k":"h","x":92,"y":125},{"k":"h","x":87,"y":108},{"k":"h","x":95,"y":100},{"k":"h","x":105,"y":92},
{"k":"i","x":103,"y":145},{"k":"i","x":104,"y":120},{"k":"i","x":104,"y":100},
{"k":"j","x":79,"y":0},{"k":"j","x":90,"y":10},{"k":"j","x":105,"y":16},
{"k":"m","x":87,"y":0},{"k":"m","x":95,"y":6},{"k":"m","x":105,"y":12}],
"l2":[{"k":"a","x":0,"y":135},{"k":"a","x":5,"y":140},{"k":"a","x":15,"y":145},
{"k":"b","x":0,"y":62},{"k":"b","x":5,"y":45},{"k":"b","x":7,"y":20},{"k":"b","x":0,"y":12},
{"k":"c","x":5,"y":125},{"k":"c","x":7,"y":100},{"k":"c","x":10,"y":70},{"k":"c","x":12,"y":45},{"k":"c","x":20,"y":28},{"k":"c","x":40,"y":23},{"k":"c","x":60,"y":25},{"k":"c","x":67,"y":15},{"k":"c","x":66,"y":5},{"k":"c","x":62,"y":0},
{"k":"d","x":105,"y":143},{"k":"d","x":85,"y":137},{"k":"d","x":65,"y":130},{"k":"d","x":40,"y":133},{"k":"d","x":20,"y":125},{"k":"d","x":11,"y":100},{"k":"d","x":15,"y":65},{"k":"d","x":22,"y":42},{"k":"d","x":37,"y":37},{"k":"d","x":55,"y":45},{"k":"d","x":70,"y":47},{"k":"d","x":88,"y":40},{"k":"d","x":105,"y":34},
{"k":"e","x":105,"y":132},{"k":"e","x":85,"y":122},{"k":"e","x":70,"y":120},{"k":"e","x":45,"y":125},{"k":"e","x":25,"y":118},{"k":"e","x":18,"y":95},{"k":"e","x":20,"y":70},{"k":"e","x":27,"y":50},{"k":"e","x":38,"y":47},{"k":"e","x":55,"y":58},{"k":"e","x":70,"y":62},{"k":"e","x":90,"y":55},{"k":"e","x":105,"y":47},
{"k":"f","x":105,"y":66},{"k":"f","x":95,"y":76},{"k":"f","x":83,"y":85},{"k":"f","x":70,"y":85},{"k":"f","x":55,"y":68},{"k":"f","x":40,"y":65},{"k":"f","x":30,"y":72},{"k":"f","x":22,"y":95},{"k":"f","x":30,"y":118},{"k":"f","x":50,"y":118},{"k":"f","x":70,"y":105},{"k":"f","x":85,"y":110},{"k":"f","x":97,"y":115},{"k":"f","x":105,"y":121},
{"k":"g","x":30,"y":110},{"k":"g","x":38,"y":108},{"k":"g","x":45,"y":97},{"k":"g","x":45,"y":90},{"k":"g","x":38,"y":88},{"k":"g","x":30,"y":97},{"k":"g","x":30,"y":110},
{"k":"h","x":105,"y":125},{"k":"h","x":95,"y":115},{"k":"h","x":92,"y":102},{"k":"h","x":97,"y":93},{"k":"h","x":105,"y":90},
{"k":"i","x":75,"y":0},{"k":"i","x":85,"y":10},{"k":"i","x":95,"y":17},{"k":"i","x":105,"y":20},
{"k":"j","x":83,"y":0},{"k":"j","x":90,"y":8},{"k":"j","x":105,"y":15},
{"k":"m","x":92,"y":0},{"k":"m","x":97,"y":5},{"k":"m","x":105,"y":9},
{"k":"n","x":97,"y":0},{"k":"n","x":105,"y":5}],
"l3":[{"k":"a","x":12,"y":145},{"k":"a","x":10,"y":130},{"k":"a","x":13,"y":100},{"k":"a","x":15,"y":70},{"k":"a","x":16,"y":50},{"k":"a","x":12,"y":37},{"k":"a","x":0,"y":31},
{"k":"b","x":0,"y":85},{"k":"b","x":5,"y":70},{"k":"b","x":8,"y":55},{"k":"b","x":5,"y":45},{"k":"b","x":0,"y":40},
{"k":"c","x":68,"y":145},{"k":"c","x":60,"y":130},{"k":"c","x":50,"y":122},{"k":"c","x":35,"y":125},{"k":"c","x":28,"y":115},{"k":"c","x":29,"y":90},{"k":"c","x":28,"y":60},{"k":"c","x":30,"y":50},{"k":"c","x":40,"y":55},{"k":"c","x":55,"y":62},{"k":"c","x":75,"y":60},{"k":"c","x":90,"y":55},{"k":"c","x":96,"y":80},{"k":"c","x":97,"y":110},{"k":"c","x":103,"y":145},
{"k":"d","x":105,"y":125},{"k":"d","x":102,"y":100},{"k":"d","x":100,"y":70},{"k":"d","x":97,"y":55},{"k":"d","x":105,"y":42},
{"k":"e","x":105,"y":110},{"k":"e","x":103,"y":90},{"k":"e","x":102,"y":70},{"k":"e","x":103,"y":48},{"k":"e","x":105,"y":40},
{"k":"f","x":85,"y":145},{"k":"f","x":75,"y":125},{"k":"f","x":68,"y":105},{"k":"f","x":58,"y":90},{"k":"f","x":57,"y":80},{"k":"f","x":65,"y":72},{"k":"f","x":85,"y":72},{"k":"f","x":90,"y":80},{"k":"f","x":92,"y":110},{"k":"f","x":97,"y":145},
{"k":"g","x":86,"y":145},{"k":"g","x":86,"y":125},{"k":"g","x":87,"y":108},{"k":"g","x":82,"y":98},{"k":"g","x":75,"y":105},{"k":"g","x":78,"y":125},{"k":"g","x":84,"y":145},
{"k":"h","x":85,"y":43},{"k":"h","x":75,"y":50},{"k":"h","x":60,"y":48},{"k":"h","x":50,"y":40},{"k":"h","x":49,"y":25},{"k":"h","x":60,"y":15},{"k":"h","x":75,"y":8},{"k":"h","x":85,"y":4},{"k":"h","x":90,"y":10},{"k":"h","x":92,"y":25},{"k":"h","x":105,"y":34},
{"k":"i","x":60,"y":25},{"k":"i","x":65,"y":32},{"k":"i","x":75,"y":30},{"k":"i","x":77,"y":26},{"k":"i","x":70,"y":20},{"k":"i","x":62,"y":21},{"k":"i","x":60,"y":25},
{"k":"j","x":0,"y":23},{"k":"j","x":15,"y":25},{"k":"j","x":30,"y":28},{"k":"j","x":45,"y":22},{"k":"j","x":60,"y":14},{"k":"j","x":75,"y":8},{"k":"j","x":85,"y":3},
{"k":"m","x":0,"y":16},{"k":"m","x":30,"y":13},{"k":"m","x":60,"y":8},{"k":"m","x":75,"y":3},{"k":"m","x":80,"y":0},
{"k":"n","x":0,"y":9},{"k":"n","x":25,"y":6},{"k":"n","x":50,"y":6},{"k":"n","x":65,"y":4},{"k":"n","x":71,"y":0},
{"k":"o","x":0,"y":4},{"k":"o","x":50,"y":3},{"k":"o","x":60,"y":0},
{"k":"p","x":93,"y":0},{"k":"p","x":95,"y":12},{"k":"p","x":100,"y":22},{"k":"p","x":105,"y":27}],
"l4":[{"k":"v1","x":30,"y":0},{"k":"v1","x":30,"y":145},{"k":"v2","x":65,"y":0},{"k":"v2","x":65,"y":145},
{"k":"a","x":13,"y":145},{"k":"a","x":8,"y":125},{"k":"a","x":6,"y":100},{"k":"a","x":6,"y":60},{"k":"a","x":8,"y":35},{"k":"a","x":13,"y":15},{"k":"a","x":13,"y":0},
{"k":"b","x":20,"y":145},{"k":"b","x":18,"y":110},{"k":"b","x":14,"y":85},{"k":"b","x":15,"y":55},{"k":"b","x":23,"y":38},{"k":"b","x":32,"y":36},{"k":"b","x":42,"y":50},{"k":"b","x":50,"y":75},{"k":"b","x":52,"y":110},{"k":"b","x":50,"y":145},
{"k":"c","x":33,"y":118},{"k":"c","x":36,"y":105},{"k":"c","x":35,"y":85},{"k":"c","x":31,"y":72},{"k":"c","x":28,"y":75},{"k":"c","x":28,"y":95},{"k":"c","x":30,"y":110},{"k":"c","x":33,"y":118},
{"k":"d","x":65,"y":145},{"k":"d","x":62,"y":130},{"k":"d","x":57,"y":100},{"k":"d","x":55,"y":75},{"k":"d","x":53,"y":50},{"k":"d","x":45,"y":25},{"k":"d","x":42,"y":15},{"k":"d","x":48,"y":5},{"k":"d","x":60,"y":3},{"k":"d","x":75,"y":5},{"k":"d","x":85,"y":10},{"k":"d","x":80,"y":15},{"k":"d","x":82,"y":22},{"k":"d","x":92,"y":18},{"k":"d","x":105,"y":18},
{"k":"e","x":75,"y":122},{"k":"e","x":88,"y":122},{"k":"e","x":93,"y":100},{"k":"e","x":97,"y":60},{"k":"e","x":93,"y":40},{"k":"e","x":85,"y":30},{"k":"e","x":75,"y":25},{"k":"e","x":65,"y":12},{"k":"e","x":55,"y":14},{"k":"e","x":54,"y":25},{"k":"e","x":60,"y":38},{"k":"e","x":65,"y":80},{"k":"e","x":70,"y":110},{"k":"e","x":75,"y":122},
{"k":"f","x":82,"y":110},{"k":"f","x":86,"y":100},{"k":"f","x":86,"y":60},{"k":"f","x":82,"y":50},{"k":"f","x":75,"y":50},{"k":"f","x":72,"y":70},{"k":"f","x":74,"y":90},{"k":"f","x":82,"y":110},
{"k":"g","x":87,"y":145},{"k":"g","x":98,"y":130},{"k":"g","x":98,"y":100},{"k":"g","x":100,"y":65},{"k":"g","x":105,"y":45},{"k":"g","x":105,"y":38}],
"l5":[{"k":"v1","x":30,"y":0},{"k":"v1","x":30,"y":145},{"k":"v2","x":65,"y":0},{"k":"v2","x":65,"y":145},
{"k":"a","x":19,"y":145},{"k":"a","x":21,"y":100},{"k":"a","x":21,"y":55},{"k":"a","x":16,"y":38},{"k":"a","x":19,"y":22},{"k":"a","x":30,"y":15},{"k":"a","x":42,"y":17},{"k":"a","x":52,"y":28},{"k":"a","x":60,"y":32},{"k":"a","x":68,"y":25},{"k":"a","x":73,"y":10},{"k":"a","x":74,"y":0},
{"k":"b","x":12,"y":145},{"k":"b","x":11,"y":110},{"k":"b","x":7,"y":85},{"k":"b","x":0,"y":62},
{"k":"c","x":0,"y":12},{"k":"c","x":25,"y":9},{"k":"c","x":45,"y":8},{"k":"c","x":58,"y":8},{"k":"c","x":62,"y":0},
{"k":"d","x":30,"y":145},{"k":"d","x":33,"y":90},{"k":"d","x":45,"y":58},{"k":"d","x":60,"y":45},{"k":"d","x":72,"y":40},{"k":"d","x":80,"y":25},{"k":"d","x":88,"y":5},{"k":"d","x":90,"y":0},
{"k":"e","x":60,"y":127},{"k":"e","x":70,"y":117},{"k":"e","x":70,"y":105},{"k":"e","x":60,"y":92},{"k":"e","x":50,"y":100},{"k":"e","x":47,"y":112},{"k":"e","x":60,"y":127},
{"k":"f","x":28,"y":31},{"k":"f","x":27,"y":25},{"k":"f","x":30,"y":22},{"k":"f","x":35,"y":28},
{"k":"g","x":78,"y":145},{"k":"g","x":81,"y":120},{"k":"g","x":85,"y":95},{"k":"g","x":80,"y":75},{"k":"g","x":77,"y":60},{"k":"g","x":82,"y":40},{"k":"g","x":90,"y":15},{"k":"g","x":96,"y":0},
{"k":"h","x":90,"y":145},{"k":"h","x":91,"y":115},{"k":"h","x":95,"y":90},{"k":"h","x":92,"y":65},{"k":"h","x":92,"y":50},{"k":"h","x":100,"y":36},{"k":"h","x":105,"y":33},
{"k":"i","x":100,"y":145},{"k":"i","x":102,"y":110},{"k":"i","x":105,"y":90},
{"k":"j","x":105,"y":70},{"k":"j","x":101,"y":58},{"k":"j","x":105,"y":45}],
"t1":[{"x":52,"y":139,"t":"1.760"},{"x":38,"y":132,"t":"1.580"},{"x":90,"y":133,"t":"1.400"},{"x":103,"y":130,"t":"1.760"},{"x":88,"y":109,"t":"1.580"},{"x":78,"y":97,"t":"1.400"},{"x":72,"y":80,"t":"1.220"},{"x":10,"y":92,"t":"0.6800"},{"x":9,"y":83,"t":"0.6800"},{"x":10,"y":54,"t":"0.6800"},{"x":22,"y":54,"t":"0.8600"},{"x":5,"y":47,"t":"0.6800"},{"x":5,"y":46,"t":"0.6800"},{"x":8,"y":37,"t":"0.6800"},{"x":52,"y":35,"t":"0.8600"},{"x":55,"y":34,"t":"0.8600"},{"x":72,"y":52,"t":"1.040"},{"x":101,"y":18,"t":"1.040"},{"x":68,"y":12,"t":"0.8600"},{"x":92,"y":3,"t":"1.220"},{"x":96,"y":3,"t":"1.400"},{"x":102,"y":6,"t":"1.580"},{"x":103,"y":1,"t":"1.760"}],
"t2":[{"x":7,"y":140,"t":".6800"},{"x":7,"y":132,"t":"0.6800"},{"x":15,"y":132,"t":"0.8600"},{"x":6,"y":126,"t":"6800"},{"x":6,"y":120,"t":"6800"},{"x":14,"y":112,"t":"1.220"},{"x":43,"y":99,"t":"1.580"},{"x":83,"y":86,"t":"1.400"},{"x":19,"y":61,"t":"1.220"},{"x":65,"y":49,"t":"1.040"},{"x":38,"y":37,"t":"1.040"},{"x":82,"y":42,"t":"1.040"},{"x":22,"y":25,"t":"0.8600"},{"x":84,"y":10,"t":"1.040"},{"x":98,"y":14,"t":"1.220"},{"x":102,"y":7,"t":"1.580"},{"x":92,"y":3,"t":"1.400"},{"x":101,"y":2,"t":"1.760"}],
"t3":[{"x":87,"y":143,"t":"1.580"},{"x":11,"y":136,"t":"1.040"},{"x":99,"y":127,"t":"1.220"},{"x":83,"y":86,"t":"1.400"},{"x":5,"y":70,"t":"0.8600"},{"x":56,"y":47,"t":"1.040"},{"x":66,"y":50,"t":"1.040"},{"x":82,"y":42,"t":"1.040"},{"x":99,"y":50,"t":"0.8600"},{"x":71,"y":35,"t":"0.8600"},{"x":30,"y":27,"t":"1.220"},{"x":100,"y":15,"t":"1.400"},{"x":59,"y":5,"t":"1.580"},{"x":67,"y":6,"t":"1.400"},{"x":92,"y":4,"t":"1.220"},{"x":103,"y":4,"t":"1.580"},{"x":8,"y":2,"t":"1.760"}],
"t4":[{"x":15,"y":126,"t":"1.220"},{"x":15,"y":122,"t":"1.220"},{"x":11,"y":110,"t":"1.220"},{"x":12,"y":110,"t":"1.220"},{"x":52,"y":124,"t":"1.400"},{"x":64,"y":133,"t":"1.220"},{"x":85,"y":122,"t":"1.040"},{"x":36,"y":88,"t":"1.580"},{"x":3,"y":97,"t":".040"},{"x":74,"y":55,"t":"0.8600"},{"x":99,"y":48,"t":"1.400"},{"x":10,"y":40,"t":"1.220"},{"x":11,"y":38,"t":"1.220"},{"x":13,"y":31,"t":"1.220"},{"x":5,"y":28,"t":"1.040"},{"x":15,"y":27,"t":"1.220"},{"x":20,"y":20,"t":"1.220"},{"x":21,"y":18,"t":"1.220"},{"x":22,"y":16,"t":"1.220"},{"x":24,"y":10,"t":"1.220"},{"x":24,"y":10,"t":"1.220"},{"x":23,"y":9,"t":"1.220"},{"x":4,"y":10,"t":".8600"},{"x":53,"y":3,"t":"1.220"},{"x":66,"y":3,"t":"1.220"},{"x":67,"y":3,"t":"1.220"}],
"t5":[{"x":5,"y":142,"t":"0.6800"},{"x":10,"y":139,"t":"0.6800"},{"x":15,"y":139,"t":"0.8600"},{"x":6,"y":126,"t":"0.6800"},{"x":8,"y":126,"t":"0.6800"},{"x":96,"y":142,"t":"1.580"},{"x":103,"y":134,"t":"1.760"},{"x":72,"y":120,"t":"1.220"},{"x":83,"y":97,"t":"1.400"},{"x":21,"y":81,"t":"1.040"},{"x":103,"y":60,"t":"1.760"},{"x":7,"y":52,"t":"0.8600"},{"x":50,"y":52,"t":"1.220"},{"x":58,"y":45,"t":"1.220"},{"x":31,"y":34,"t":"1.220"},{"x":10,"y":18,"t":"0.8600"},{"x":40,"y":16,"t":"1.040"},{"x":84,"y":17,"t":"1.220"},{"x":53,"y":7,"t":"0.8600"},{"x":74,"y":6,"t":"1.040"},{"x":14,"y":3,"t":"0.6800"},{"x":3,"y":10,"t":"8600"},{"x":34,"y":2,"t":"0.6800"},{"x":37,"y":2,"t":"0.6800"},{"x":40,"y":2,"t":"0.6800"},{"x":104,"y":2,"t":"1.580"}],
"ell":[{"x":42.5,"y":88.5},{"x":41,"y":110},{"x":37,"y":125},{"x":31.5,"y":131},{"x":26,"y":125},{"x":22,"y":110},{"x":20.5,"y":88.5},{"x":22,"y":67},{"x":26,"y":52},{"x":31.5,"y":46},{"x":37,"y":52},{"x":41,"y":67},{"x":42.5,"y":88.5}]
},
"vconcat":[
{"spacing":89,"resolve":{"scale":{"color":"independent"},"legend":{"color":"independent"}},"hconcat":[
{"spacing":0,"resolve":{"scale":{"color":"independent"},"legend":{"color":"independent"}},"hconcat":[
{"width":17,"height":10,"view":{"stroke":null},"data":{"values":[{"a":1}]},"mark":{"type":"point","opacity":0},"encoding":{}},
{"width":243,"height":196,"title":{"text":"MONET-CL-1","orient":"bottom","offset":14},
"encoding":{"x":{"field":"x","type":"quantitative","scale":{"domain":[0,150],"nice":false},"axis":{"values":[0,15,30,45,60,75,90,105,120,135,150],"labelExpr":"datum.value%30===0?datum.label:''","tickSize":{"condition":{"test":"datum.value%30===0","value":4},"value":2},"title":"mm","titleX":113,"titleY":14}},"y":{"field":"y","type":"quantitative","scale":{"domain":[0,180],"nice":false},"axis":{"values":[0,10,20,30,40,50,60,70,80,90,100,110,120,130,140,150,160,170,180],"labelExpr":"datum.value%20===0?datum.label:''","tickSize":{"condition":{"test":"datum.value%20===0","value":4},"value":2},"title":"mm","titleX":-20,"titleY":99}}},
"layer":[
{"data":{"name":"g1"},"mark":{"type":"rect","width":12.7,"height":12.7},"encoding":{"color":{"field":"v","type":"quantitative","scale":{"domain":[0.5,0.85,1.2,1.55,1.91],"range":["#0000ff","#00ffff","#00ff00","#ffff00","#ff0000"],"clamp":true},"legend":{"orient":"none","legendX":188,"legendY":14,"title":null,"direction":"vertical","gradientLength":92,"gradientThickness":28,"values":[0.5,0.66,0.82,0.98,1.14,1.3,1.46,1.62,1.78,1.91],"labelExpr":"datum.value>=1.1?format(datum.value,'.3f'):format(datum.value,'.4f')","labelFontSize":5.5,"labelOverlap":false,"labelOffset":2,"tickOpacity":0,"gradientStrokeWidth":0}}}},
{"data":{"name":"l1"},"mark":{"type":"line","interpolate":"cardinal","stroke":"#1a3a1a","strokeWidth":0.5},"encoding":{"detail":{"field":"k"},"order":{"value":null}}},
{"data":{"name":"pts"},"mark":{"type":"point","filled":true,"size":3,"color":"#222","opacity":1}},
{"data":{"name":"t1"},"mark":{"type":"text","fontSize":6.5,"font":"Liberation Sans","color":"#222"},"encoding":{"text":{"field":"t"}}}
]}]},
{"width":232,"height":187,"title":{"text":"MONET-CL-2","orient":"bottom","offset":25},
"encoding":{"x":{"field":"x","type":"quantitative","scale":{"domain":[0,150],"nice":false},"axis":{"values":[0,15,30,45,60,75,90,105,120,135,150],"labelExpr":"datum.value%30===0?datum.label:''","tickSize":{"condition":{"test":"datum.value%30===0","value":4},"value":2},"title":"mm","titleX":108,"titleY":13}},"y":{"field":"y","type":"quantitative","scale":{"domain":[0,180],"nice":false},"axis":{"values":[0,10,20,30,40,50,60,70,80,90,100,110,120,130,140,150,160,170,180],"labelExpr":"datum.value%20===0?datum.label:''","tickSize":{"condition":{"test":"datum.value%20===0","value":4},"value":2},"title":"mm","titleX":-19,"titleY":95}}},
"layer":[
{"data":{"name":"g2"},"mark":{"type":"rect","width":12.1,"height":12.1},"encoding":{"color":{"field":"v","type":"quantitative","scale":{"domain":[0.5,0.85,1.2,1.55,1.91],"range":["#0000ff","#00ffff","#00ff00","#ffff00","#ff0000"],"clamp":true},"legend":{"orient":"none","legendX":179,"legendY":12,"title":null,"direction":"vertical","gradientLength":88,"gradientThickness":26,"values":[0.5,0.66,0.82,0.98,1.14,1.3,1.46,1.62,1.78,1.91],"labelExpr":"datum.value>=1.1?format(datum.value,'.3f'):format(datum.value,'.4f')","labelFontSize":5.5,"labelOverlap":false,"labelOffset":2,"tickOpacity":0,"gradientStrokeWidth":0}}}},
{"data":{"values":[{"x":0,"x2":105,"y":145,"y2":150}]},"mark":{"type":"rect","color":"#808080"},"encoding":{"x2":{"field":"x2"},"y2":{"field":"y2"}}},
{"data":{"name":"l2"},"mark":{"type":"line","interpolate":"cardinal","stroke":"#1a3a1a","strokeWidth":0.5},"encoding":{"detail":{"field":"k"},"order":{"value":null}}},
{"data":{"name":"pts"},"mark":{"type":"point","filled":true,"size":3,"color":"#222","opacity":1}},
{"data":{"name":"t2"},"mark":{"type":"text","fontSize":6.5,"font":"Liberation Sans","color":"#222"},"encoding":{"text":{"field":"t"}}},
{"data":{"values":[{"x":50,"y":155,"t":"Closed Top wall"}]},"mark":{"type":"text","fontSize":8,"font":"Liberation Sans","color":"#222"},"encoding":{"text":{"field":"t"}}}
]}]},
{"spacing":38,"resolve":{"scale":{"color":"independent"},"legend":{"color":"independent"}},"hconcat":[
{"spacing":0,"resolve":{"scale":{"color":"independent"},"legend":{"color":"independent"}},"hconcat":[
{"width":7,"height":10,"view":{"stroke":null},"data":{"values":[{"a":1}]},"mark":{"type":"point","opacity":0},"encoding":{}},
{"width":288,"height":232,"title":{"text":"MONET-CL-3","orient":"bottom","offset":17,"dx":-16},
"encoding":{"x":{"field":"x","type":"quantitative","scale":{"domain":[0,150],"nice":false},"axis":{"values":[0,15,30,45,60,75,90,105,120,135,150],"labelExpr":"datum.value%30===0?datum.label:''","tickSize":{"condition":{"test":"datum.value%30===0","value":4},"value":2},"title":"mm","titleX":135,"titleY":16}},"y":{"field":"y","type":"quantitative","scale":{"domain":[0,180],"nice":false},"axis":{"values":[0,10,20,30,40,50,60,70,80,90,100,110,120,130,140,150,160,170,180],"labelExpr":"datum.value%20===0?datum.label:''","tickSize":{"condition":{"test":"datum.value%20===0","value":4},"value":2},"title":"mm","titleX":-23,"titleY":118}}},
"layer":[
{"data":{"name":"g3"},"mark":{"type":"rect","width":14.9,"height":14.9},"encoding":{"color":{"field":"v","type":"quantitative","scale":{"domain":[0.5,0.85,1.2,1.55,1.91],"range":["#0000ff","#00ffff","#00ff00","#ffff00","#ff0000"],"clamp":true},"legend":{"orient":"none","legendX":223,"legendY":15,"title":null,"direction":"vertical","gradientLength":110,"gradientThickness":32,"values":[0.5,0.66,0.82,0.98,1.14,1.3,1.46,1.62,1.78,1.91],"labelExpr":"datum.value>=1.1?format(datum.value,'.3f'):format(datum.value,'.4f')","labelFontSize":6,"labelOverlap":false,"labelOffset":2,"tickOpacity":0,"gradientStrokeWidth":0}}}},
{"data":{"values":[{"x":105,"x2":107,"y":0,"y2":145}]},"mark":{"type":"rect","color":"#808080"},"encoding":{"x2":{"field":"x2"},"y2":{"field":"y2"}}},
{"data":{"name":"l3"},"mark":{"type":"line","interpolate":"cardinal","stroke":"#1a3a1a","strokeWidth":0.5},"encoding":{"detail":{"field":"k"},"order":{"value":null}}},
{"data":{"name":"pts"},"mark":{"type":"point","filled":true,"size":3,"color":"#222","opacity":1}},
{"data":{"name":"t3"},"mark":{"type":"text","fontSize":7,"font":"Liberation Sans","color":"#222"},"encoding":{"text":{"field":"t"}}},
{"data":{"values":[{"x":109.5,"y":73,"t":"Closed side wall"}]},"mark":{"type":"text","fontSize":9,"angle":90,"font":"Liberation Sans","color":"#222"},"encoding":{"text":{"field":"t"}}},
{"data":{"values":[{"x":0,"y":180}]},"mark":{"type":"point","opacity":0,"size":4,"yOffset":-7.5}}
]}]},
{"width":255,"height":212,"title":{"text":"MONET-CL-4","orient":"bottom","offset":38},
"encoding":{"x":{"field":"x","type":"quantitative","scale":{"domain":[0,150],"nice":false},"axis":{"values":[0,15,30,45,60,75,90,105,120,135,150],"labelExpr":"datum.value%30===0?datum.label:''","tickSize":{"condition":{"test":"datum.value%30===0","value":4},"value":2},"title":"mm","titleX":119,"titleY":15}},"y":{"field":"y","type":"quantitative","scale":{"domain":[0,180],"nice":false},"axis":{"values":[0,10,20,30,40,50,60,70,80,90,100,110,120,130,140,150,160,170,180],"labelExpr":"datum.value%20===0?datum.label:''","tickSize":{"condition":{"test":"datum.value%20===0","value":4},"value":2},"title":"mm","titleX":-21,"titleY":107}}},
"layer":[
{"data":{"name":"g4"},"mark":{"type":"rect","width":13.2,"height":13.6},"encoding":{"color":{"field":"v","type":"quantitative","scale":{"domain":[0.5,0.85,1.2,1.55,1.91],"range":["#0000ff","#00ffff","#00ff00","#ffff00","#ff0000"],"clamp":true},"legend":{"orient":"none","legendX":197,"legendY":13,"title":null,"direction":"vertical","gradientLength":100,"gradientThickness":29,"values":[0.5,0.66,0.82,0.98,1.14,1.3,1.46,1.62,1.78,1.91],"labelExpr":"datum.value>=1.1?format(datum.value,'.3f'):format(datum.value,'.4f')","labelFontSize":5.5,"labelOverlap":false,"labelOffset":2,"tickOpacity":0,"gradientStrokeWidth":0}}}},
{"data":{"name":"l4"},"mark":{"type":"line","interpolate":"cardinal","stroke":"#1a3a1a","strokeWidth":0.5},"encoding":{"detail":{"field":"k"},"order":{"value":null}}},
{"data":{"name":"pts"},"mark":{"type":"point","filled":true,"size":3,"color":"#222","opacity":1}},
{"data":{"name":"t4"},"mark":{"type":"text","fontSize":6.5,"font":"Liberation Sans","color":"#222"},"encoding":{"text":{"field":"t"}}},
{"data":{"name":"ell"},"mark":{"type":"line","interpolate":"cardinal","color":"black","strokeWidth":2.6,"strokeDash":[8,5]},"encoding":{"order":{"value":null}}},
{"data":{"values":[{"x":32,"y":120},{"x":31.5,"y":148}]},"mark":{"type":"line","color":"black","strokeWidth":2},"encoding":{"order":{"value":null}}},
{"data":{"values":[{"x":31.5,"y":152}]},"mark":{"type":"point","shape":"triangle-up","filled":true,"size":340,"color":"black","opacity":1}},
{"data":{"values":[{"x":13.5,"y":150,"t":"zone A"},{"x":47.7,"y":150,"t":"zone B"},{"x":84.5,"y":150,"t":"zone C"}]},"mark":{"type":"text","fontSize":8,"font":"Liberation Sans","color":"#222"},"encoding":{"text":{"field":"t"}}},
{"data":{"values":[{"x":30,"y":174,"t":"Acceleration"}]},"mark":{"type":"text","fontSize":14.5,"font":"Liberation Sans","color":"#222"},"encoding":{"text":{"field":"t"}}}
]}]},
{"spacing":0,"resolve":{"scale":{"color":"independent"},"legend":{"color":"independent"}},"hconcat":[
{"width":7,"height":10,"view":{"stroke":null},"data":{"values":[{"a":1}]},"mark":{"type":"point","opacity":0},"encoding":{}},
{"width":262,"height":213,"title":{"text":"MONET-CL-5","orient":"bottom","offset":18},
"encoding":{"x":{"field":"x","type":"quantitative","scale":{"domain":[0,150],"nice":false},"axis":{"values":[0,15,30,45,60,75,90,105,120,135,150],"labelExpr":"datum.value%30===0?datum.label:''","tickSize":{"condition":{"test":"datum.value%30===0","value":4},"value":2},"title":"mm","titleX":122,"titleY":15}},"y":{"field":"y","type":"quantitative","scale":{"domain":[0,180],"nice":false},"axis":{"values":[0,10,20,30,40,50,60,70,80,90,100,110,120,130,140,150,160,170,180],"labelExpr":"datum.value%20===0?datum.label:''","tickSize":{"condition":{"test":"datum.value%20===0","value":4},"value":2},"title":"mm","titleX":-21,"titleY":114}}},
"layer":[
{"data":{"name":"g5"},"mark":{"type":"rect","width":13.6,"height":13.7},"encoding":{"color":{"field":"v","type":"quantitative","scale":{"domain":[0.5,0.85,1.2,1.55,1.91],"range":["#0000ff","#00ffff","#00ff00","#ffff00","#ff0000"],"clamp":true},"legend":{"orient":"none","legendX":203,"legendY":14,"title":null,"direction":"vertical","gradientLength":101,"gradientThickness":29,"values":[0.5,0.66,0.82,0.98,1.14,1.3,1.46,1.62,1.78,1.91],"labelExpr":"datum.value>=1.1?format(datum.value,'.3f'):format(datum.value,'.4f')","labelFontSize":5.5,"labelOverlap":false,"labelOffset":2,"tickOpacity":0,"gradientStrokeWidth":0}}}},
{"data":{"name":"l5"},"mark":{"type":"line","interpolate":"cardinal","stroke":"#1a3a1a","strokeWidth":0.5},"encoding":{"detail":{"field":"k"},"order":{"value":null}}},
{"data":{"name":"pts"},"mark":{"type":"point","filled":true,"size":3,"color":"#222","opacity":1}},
{"data":{"name":"t5"},"mark":{"type":"text","fontSize":6.5,"font":"Liberation Sans","color":"#222"},"encoding":{"text":{"field":"t"}}},
{"data":{"values":[{"x":16,"y":149,"t":"zone A"},{"x":48,"y":149,"t":"zone B"},{"x":87,"y":148,"t":"zone C"}]},"mark":{"type":"text","fontSize":8.5,"font":"Liberation Sans","color":"#222"},"encoding":{"text":{"field":"t"}}}
]}]}
]}
